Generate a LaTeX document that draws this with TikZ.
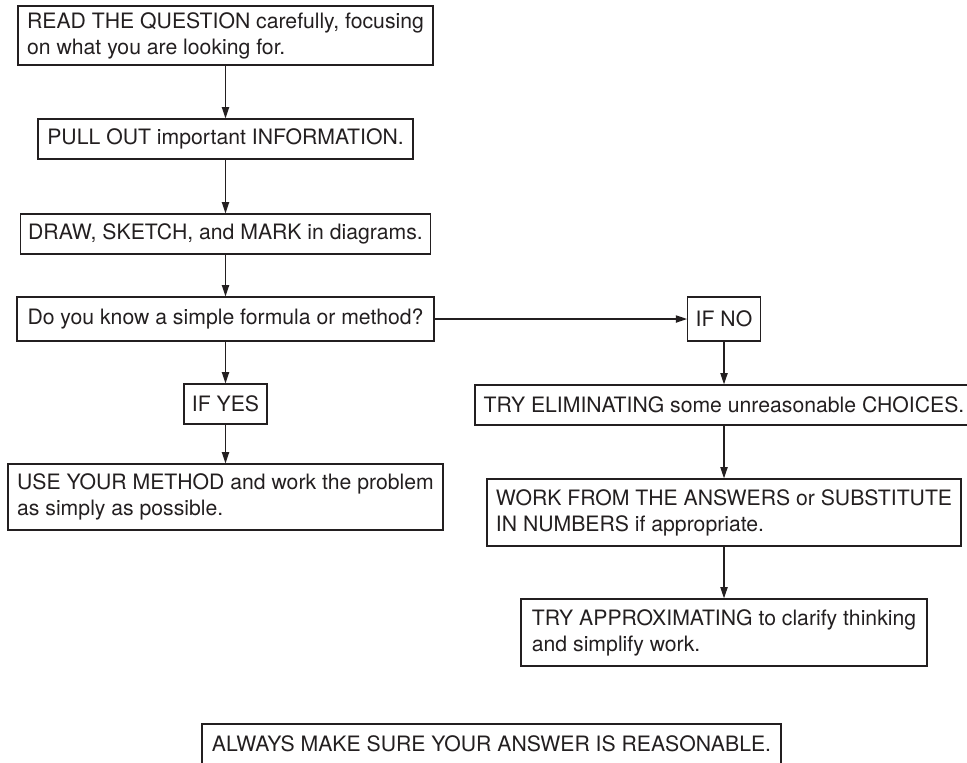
\documentclass[tikz,border=0pt]{standalone}
\usepackage{fontspec}
\setmainfont{TeX Gyre Heros}
\usetikzlibrary{arrows.meta}
\definecolor{ink}{RGB}{35,31,32}
\tikzset{
  flowbox/.style={draw=ink, line width=0.65pt, text=ink, inner xsep=4pt, inner ysep=0pt,
    align=left, font=\fontsize{10.6}{13}\selectfont},
  flowarrow/.style={draw=ink, line width=0.65pt, -{Triangle[length=5.6pt,width=3.6pt]}}
}
\begin{document}
\begin{tikzpicture}[x=0.5pt,y=-0.5pt]
\useasboundingbox (0,0) rectangle (967,762);
\clip (0,0) rectangle (967,762);
% left column
\node[flowbox, minimum width=207.5pt, minimum height=29.5pt] (read) at (225.5,35.5)
  {READ THE QUESTION carefully, focusing\\on what you are looking for.};
\node[flowbox, minimum width=187.5pt, minimum height=20pt] (pull) at (225.5,139)
  {PULL OUT important INFORMATION.};
\node[flowbox, minimum width=203.5pt, minimum height=20pt] (drawb) at (225.5,234)
  {DRAW, SKETCH, and MARK in diagrams.};
\node[flowbox, minimum width=208.5pt, minimum height=22pt] (know) at (225.5,319)
  {Do you know a simple formula or method?};
\node[flowbox, minimum width=40pt, minimum height=20pt] (yes) at (225.5,404)
  {IF YES};
\node[flowbox, minimum width=217.5pt, minimum height=33pt] (use) at (225.5,497)
  {USE YOUR METHOD and work the problem\\as simply as possible.};
% right column
\node[flowbox, minimum width=35pt, minimum height=22pt] (no) at (724,319)
  {IF NO};
\node[flowbox, minimum width=249pt, minimum height=20pt] (elim) at (724,405)
  {TRY ELIMINATING some unreasonable CHOICES.};
\node[flowbox, minimum width=237pt, minimum height=33.5pt] (work) at (724,512.5)
  {WORK FROM THE ANSWERS or SUBSTITUTE\\IN NUMBERS if appropriate.};
\node[flowbox, minimum width=203pt, minimum height=33.5pt] (approx) at (724,632.5)
  {TRY APPROXIMATING to clarify thinking\\and simplify work.};
% bottom
\node[flowbox, minimum width=289.5pt, minimum height=20pt] (always) at (491.5,744)
  {ALWAYS MAKE SURE YOUR ANSWER IS REASONABLE.};
% connectors
\draw[flowarrow] (read) -- (pull);
\draw[flowarrow] (pull) -- (drawb);
\draw[flowarrow] (drawb) -- (know);
\draw[flowarrow] (know) -- (yes);
\draw[flowarrow] (yes) -- (use);
\draw[flowarrow] (know) -- (no);
\draw[flowarrow] (no) -- (elim);
\draw[flowarrow] (elim) -- (work);
\draw[flowarrow] (work) -- (approx);
\end{tikzpicture}
\end{document}
